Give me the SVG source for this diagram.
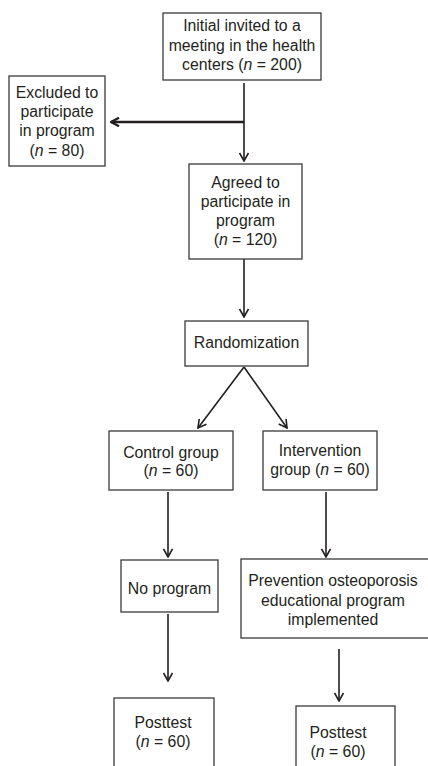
<svg xmlns="http://www.w3.org/2000/svg" width="428" height="766" viewBox="0 0 428 766">
<style>
.box{fill:#fff;stroke:#3a3a3a;stroke-width:1.3}
text{font-family:"Liberation Sans",Arial,sans-serif;font-size:15.8px;fill:#231f20;text-anchor:middle}
.c{fill:none;stroke:#231f20;stroke-width:1.6}
.thick{stroke-width:2.6}
</style>
<defs>
<marker id="ah" viewBox="0 0 10 10" refX="9" refY="5" markerWidth="10" markerHeight="10" markerUnits="userSpaceOnUse" orient="auto">
<path d="M1,0.5 L9,5 L1,9.5" fill="none" stroke="#231f20" stroke-width="1.6"/>
</marker>
<marker id="ahT" viewBox="0 0 10 10" refX="9" refY="5" markerWidth="10" markerHeight="10" markerUnits="userSpaceOnUse" orient="auto">
<path d="M1,0.8 L9,5 L1,9.2" fill="none" stroke="#231f20" stroke-width="2.4"/>
</marker>
</defs>
<rect width="428" height="766" fill="#fff"/>
<g id="connectors">
<line class="c" x1="244" y1="83" x2="244" y2="161" marker-end="url(#ah)"/>
<line class="c thick" x1="244" y1="122" x2="111" y2="122" marker-end="url(#ahT)"/>
<line class="c" x1="244" y1="259" x2="244" y2="317" marker-end="url(#ah)"/>
<line class="c" x1="244" y1="367" x2="198" y2="428" marker-end="url(#ah)"/>
<line class="c" x1="244" y1="367" x2="287" y2="428" marker-end="url(#ah)"/>
<line class="c" x1="168" y1="492" x2="168" y2="557" marker-end="url(#ah)"/>
<line class="c" x1="326" y1="492" x2="326" y2="557" marker-end="url(#ah)"/>
<line class="c" x1="168" y1="614" x2="168" y2="681" marker-end="url(#ah)"/>
<line class="c" x1="339" y1="649" x2="339" y2="701" marker-end="url(#ah)"/>
</g>
<g id="initial">
<rect class="box" x="163" y="13" width="158" height="67"/>
<text x="242" y="31">Initial invited to a</text>
<text x="242" y="51">meeting in the health</text>
<text x="242" y="70">centers (<tspan font-style="italic">n</tspan> = 200)</text>
</g>
<g id="excluded">
<rect class="box" x="9" y="76" width="96" height="90"/>
<text x="57" y="98">Excluded to</text>
<text x="57" y="117">participate</text>
<text x="57" y="136">in program</text>
<text x="57" y="156">(<tspan font-style="italic">n</tspan> = 80)</text>
</g>
<g id="agreed">
<rect class="box" x="189" y="164" width="113" height="95"/>
<text x="245.5" y="188">Agreed to</text>
<text x="245.5" y="207">participate in</text>
<text x="245.5" y="226">program</text>
<text x="245.5" y="245">(<tspan font-style="italic">n</tspan> = 120)</text>
</g>
<g id="randomization">
<rect class="box" x="185" y="321" width="123" height="45"/>
<text x="246.5" y="348">Randomization</text>
</g>
<g id="control">
<rect class="box" x="109" y="431" width="124" height="59"/>
<text x="171" y="458">Control group</text>
<text x="171" y="476">(<tspan font-style="italic">n</tspan> = 60)</text>
</g>
<g id="intervention">
<rect class="box" x="263" y="431" width="114" height="59"/>
<text x="320" y="456">Intervention</text>
<text x="320" y="475">group (<tspan font-style="italic">n</tspan> = 60)</text>
</g>
<g id="noprogram">
<rect class="box" x="121" y="560" width="97" height="52"/>
<text x="169.5" y="594">No program</text>
</g>
<g id="prevention">
<rect class="box" x="241" y="559" width="200" height="79"/>
<text x="333" y="586">Prevention osteoporosis</text>
<text x="333" y="606">educational program</text>
<text x="333" y="625">implemented</text>
</g>
<g id="posttest1">
<rect class="box" x="114" y="698" width="100" height="80"/>
<text x="163" y="728">Posttest</text>
<text x="163" y="747">(<tspan font-style="italic">n</tspan> = 60)</text>
</g>
<g id="posttest2">
<rect class="box" x="296" y="706" width="99" height="80"/>
<text x="338" y="738">Posttest</text>
<text x="338" y="757">(<tspan font-style="italic">n</tspan> = 60)</text>
</g>
</svg>
